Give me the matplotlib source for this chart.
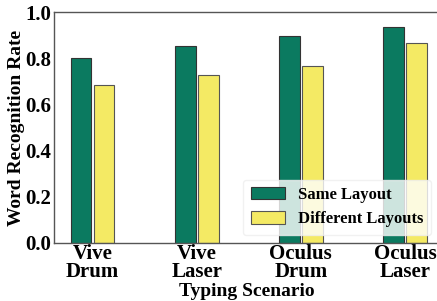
import numpy as np
import matplotlib.pyplot as plt

scenarios = ["Vive\nDrum", "Vive\nLaser", "Oculus\nDrum", "Oculus\nLaser"]
same_layout = [0.80, 0.851, 0.896, 0.935]
diff_layout = [0.686, 0.726, 0.765, 0.865]

plt.rcParams['font.family'] = ['Liberation Serif', 'DejaVu Serif']
plt.rcParams['font.weight'] = 'bold'

fig = plt.figure(figsize=(4.37, 3.01), dpi=100)
ax = fig.add_axes([54 / 437, 58 / 301, 1 - 54 / 437 + 0.01, 231 / 301])

x = np.arange(len(scenarios))
w = 0.2
ax.bar(x - w / 2 - 0.01, same_layout, w, color='#0b7a60', edgecolor='#333333',
       linewidth=0.8, label='Same Layout')
ax.bar(x + w / 2 + 0.01, diff_layout, w, color='#f4ea64', edgecolor='#555555',
       linewidth=0.8, label='Different Layouts')

ax.set_xlim(-0.37, 3.35)
ax.set_ylim(0, 1.0)
ax.set_xticks(x)
ax.set_xticklabels(scenarios, fontsize=15, fontweight='bold', linespacing=0.85)
ax.set_yticks([0, 0.2, 0.4, 0.6, 0.8, 1.0])
ax.set_yticklabels(["0.0", "0.2", "0.4", "0.6", "0.8", "1.0"], fontsize=15, fontweight='bold')
ax.tick_params(length=0, pad=2)
ax.tick_params(axis='x', pad=1)
fig.text(17 / 437, 1 - 128 / 301, "Word Recognition Rate", rotation=90, fontsize=14,
         fontweight='bold', ha='center', va='center')
fig.text(247 / 437, 1 - 291 / 301, "Typing Scenario", fontsize=14,
         fontweight='bold', ha='center', va='center')
for s in ax.spines.values():
    s.set_color('#555555')
    s.set_linewidth(1.0)
ax.spines['right'].set_visible(False)

leg = ax.legend(loc='lower right', bbox_to_anchor=(0.973, 0.035), borderaxespad=0,
                fontsize=12, framealpha=0.8, handlelength=2.05, handleheight=0.75,
                borderpad=0.45, labelspacing=0.5, handletextpad=0.8)
leg.get_frame().set_edgecolor('#eeeeee')

fig.savefig("out.png", dpi=100)
